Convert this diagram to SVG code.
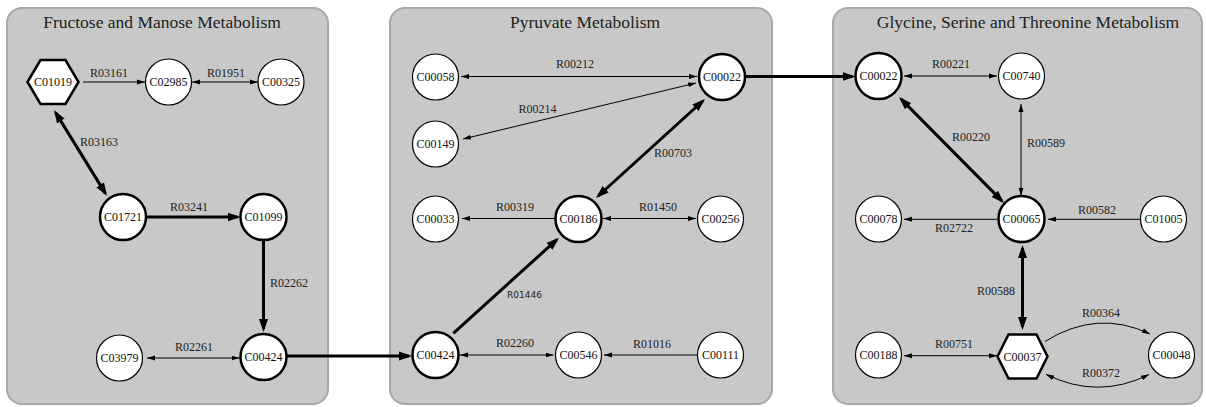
<svg xmlns="http://www.w3.org/2000/svg" width="1206" height="407" viewBox="0 0 1206 407">
<style>
.panel{fill:#c8c8c8;stroke:#a8a8a8;stroke-width:2}
.title{font-family:"Liberation Serif",serif;font-size:17.5px;fill:#222;text-anchor:middle}
.n{fill:#fff;stroke:#000;stroke-width:1.2}
.nt{fill:#fff;stroke:#000;stroke-width:2.5}
.lbl{font-family:"Liberation Serif",serif;font-size:12px;fill:#111;text-anchor:middle}
.el{font-family:"Liberation Serif",serif;font-size:12px;fill:#222}
.es{font-family:"DejaVu Sans",sans-serif;font-size:9px;fill:#222}
.thin{fill:none;stroke:#000;stroke-width:1}
.thick{fill:none;stroke:#000;stroke-width:3}
</style>
<defs>
<marker id="ah" viewBox="0 0 8 6" refX="8" refY="3" markerWidth="8" markerHeight="6" orient="auto-start-reverse" markerUnits="userSpaceOnUse"><path d="M0,0.5 L8,3 L0,5.5 z" fill="#000"/></marker>
<marker id="AH" viewBox="0 0 13 10" refX="10" refY="5" markerWidth="13" markerHeight="10" orient="auto-start-reverse" markerUnits="userSpaceOnUse"><path d="M0,0.5 L13,5 L0,9.5 z" fill="#000"/></marker>
</defs>

<g id="panels">
<rect class="panel" x="7" y="8" width="321" height="396" rx="15"/>
<rect class="panel" x="390" y="8" width="382" height="396" rx="15"/>
<rect class="panel" x="833" y="8" width="369" height="396" rx="15"/>
<text class="title" x="162" y="28">Fructose and Manose Metabolism</text>
<text class="title" x="585" y="28">Pyruvate Metabolism</text>
<text class="title" x="1028" y="28">Glycine, Serine and Threonine Metabolism</text>
</g>

<g id="connectors">
<!-- panel 1 -->
<line class="thin" x1="83" y1="82" x2="145" y2="82" marker-end="url(#ah)"/>
<line class="thin" x1="192" y1="82" x2="258" y2="82" marker-start="url(#ah)" marker-end="url(#ah)"/>
<line class="thick" x1="55.6" y1="112.6" x2="105.4" y2="193.4" marker-start="url(#AH)" marker-end="url(#AH)"/>
<line class="thick" x1="146" y1="217" x2="237.5" y2="217" marker-end="url(#AH)"/>
<line class="thick" x1="263.5" y1="240" x2="263.5" y2="329" marker-end="url(#AH)"/>
<line class="thin" x1="147" y1="358" x2="239.5" y2="358" marker-start="url(#ah)" marker-end="url(#ah)"/>
<line class="thick" x1="287" y1="356" x2="409" y2="356" marker-end="url(#AH)"/>
<!-- panel 2 -->
<line class="thin" x1="461" y1="76.5" x2="697" y2="76.5" marker-start="url(#ah)" marker-end="url(#ah)"/>
<line class="thin" x1="463" y1="139" x2="696" y2="83" marker-start="url(#ah)" marker-end="url(#ah)"/>
<line class="thick" x1="598.2" y1="196" x2="702.8" y2="101" marker-start="url(#AH)" marker-end="url(#AH)"/>
<line class="thin" x1="555" y1="218.5" x2="462" y2="218.5" marker-end="url(#ah)"/>
<line class="thin" x1="603" y1="218.5" x2="696" y2="218.5" marker-start="url(#ah)" marker-end="url(#ah)"/>
<line class="thick" x1="453.3" y1="333.3" x2="556.8" y2="239.7" marker-end="url(#AH)"/>
<line class="thin" x1="460" y1="355" x2="553.5" y2="355" marker-start="url(#ah)" marker-end="url(#ah)"/>
<line class="thin" x1="697" y1="355" x2="604" y2="355" marker-end="url(#ah)"/>
<line class="thick" x1="745" y1="76.5" x2="852.5" y2="76.5" marker-end="url(#AH)"/>
<!-- panel 3 -->
<line class="thin" x1="904" y1="76" x2="997" y2="76" marker-start="url(#ah)" marker-end="url(#ah)"/>
<line class="thick" x1="901.1" y1="99.1" x2="1001.9" y2="200.9" marker-start="url(#AH)" marker-end="url(#AH)"/>
<line class="thin" x1="1021" y1="104" x2="1021" y2="195.5" marker-start="url(#ah)" marker-end="url(#ah)"/>
<line class="thin" x1="997" y1="219.3" x2="904" y2="219.3" marker-end="url(#ah)"/>
<line class="thin" x1="1140" y1="219.3" x2="1048" y2="219.3" marker-end="url(#ah)"/>
<line class="thick" x1="1022.5" y1="248" x2="1022.5" y2="327" marker-start="url(#AH)" marker-end="url(#AH)"/>
<line class="thin" x1="904" y1="355.7" x2="997" y2="355.7" marker-start="url(#ah)" marker-end="url(#ah)"/>
<path class="thin" d="M1045,341.5 Q1097,308.8 1150,334" marker-end="url(#ah)"/>
<path class="thin" d="M1046,374.3 Q1098,400 1149,374.5" marker-start="url(#ah)" marker-end="url(#ah)"/>
</g>

<g id="edge-labels">
<text class="el" x="109" y="77" text-anchor="middle">R03161</text>
<text class="el" x="226" y="77" text-anchor="middle">R01951</text>
<text class="el" x="80" y="146">R03163</text>
<text class="el" x="189" y="211" text-anchor="middle">R03241</text>
<text class="el" x="270" y="287">R02262</text>
<text class="el" x="194" y="351" text-anchor="middle">R02261</text>
<text class="el" x="575" y="68" text-anchor="middle">R00212</text>
<text class="el" x="537.5" y="113" text-anchor="middle">R00214</text>
<text class="el" x="654" y="157">R00703</text>
<text class="el" x="515" y="211" text-anchor="middle">R00319</text>
<text class="el" x="658" y="211" text-anchor="middle">R01450</text>
<text class="es" x="507" y="298">R01446</text>
<text class="el" x="515" y="347" text-anchor="middle">R02260</text>
<text class="el" x="652" y="348" text-anchor="middle">R01016</text>
<text class="el" x="951" y="68" text-anchor="middle">R00221</text>
<text class="el" x="952" y="140.5">R00220</text>
<text class="el" x="1027" y="146.5">R00589</text>
<text class="el" x="954" y="232" text-anchor="middle">R02722</text>
<text class="el" x="1097" y="213.5" text-anchor="middle">R00582</text>
<text class="el" x="977" y="294.5">R00588</text>
<text class="el" x="954" y="348" text-anchor="middle">R00751</text>
<text class="el" x="1101" y="317" text-anchor="middle">R00364</text>
<text class="el" x="1101" y="377" text-anchor="middle">R00372</text>
</g>

<g id="C01019"><polygon class="nt" points="27.5,82 40.5,60 65.5,60 78.5,82 65.5,104 40.5,104"/><text class="lbl" x="53" y="86">C01019</text></g>
<g id="C02985"><circle class="n" cx="168.5" cy="82" r="23"/><text class="lbl" x="168.5" y="86">C02985</text></g>
<g id="C00325"><circle class="n" cx="281" cy="82" r="23"/><text class="lbl" x="281" y="86">C00325</text></g>
<g id="C01721"><circle class="nt" cx="123" cy="217" r="23"/><text class="lbl" x="123" y="221">C01721</text></g>
<g id="C01099"><circle class="nt" cx="263.5" cy="217" r="23"/><text class="lbl" x="263.5" y="221">C01099</text></g>
<g id="C03979"><circle class="n" cx="119.5" cy="358" r="23"/><text class="lbl" x="119.5" y="362">C03979</text></g>
<g id="C00424-a"><circle class="nt" cx="263.5" cy="357" r="23"/><text class="lbl" x="263.5" y="361">C00424</text></g>

<g id="C00058"><circle class="n" cx="435.5" cy="77" r="23"/><text class="lbl" x="435.5" y="81">C00058</text></g>
<g id="C00022-a"><circle class="nt" cx="722" cy="77" r="23"/><text class="lbl" x="722" y="81">C00022</text></g>
<g id="C00149"><circle class="n" cx="435.5" cy="144" r="23"/><text class="lbl" x="435.5" y="148">C00149</text></g>
<g id="C00033"><circle class="n" cx="435.5" cy="219" r="23"/><text class="lbl" x="435.5" y="223">C00033</text></g>
<g id="C00186"><circle class="nt" cx="578.5" cy="219" r="23"/><text class="lbl" x="578.5" y="223">C00186</text></g>
<g id="C00256"><circle class="n" cx="720.5" cy="219" r="23"/><text class="lbl" x="720.5" y="223">C00256</text></g>
<g id="C00424-b"><circle class="nt" cx="435.5" cy="355" r="23"/><text class="lbl" x="435.5" y="359">C00424</text></g>
<g id="C00546"><circle class="n" cx="578.5" cy="355" r="23"/><text class="lbl" x="578.5" y="359">C00546</text></g>
<g id="C00111"><circle class="n" cx="720.5" cy="355" r="23"/><text class="lbl" x="720.5" y="359">C00111</text></g>

<g id="C00022-b"><circle class="nt" cx="878.5" cy="76" r="23"/><text class="lbl" x="878.5" y="80">C00022</text></g>
<g id="C00740"><circle class="n" cx="1021.5" cy="76" r="23"/><text class="lbl" x="1021.5" y="80">C00740</text></g>
<g id="C00078"><circle class="n" cx="878.5" cy="219" r="23"/><text class="lbl" x="878.5" y="223">C00078</text></g>
<g id="C00065"><circle class="nt" cx="1021.5" cy="219" r="23"/><text class="lbl" x="1021.5" y="223">C00065</text></g>
<g id="C01005"><circle class="n" cx="1163.5" cy="219" r="23"/><text class="lbl" x="1163.5" y="223">C01005</text></g>
<g id="C00188"><circle class="n" cx="878.5" cy="355" r="23"/><text class="lbl" x="878.5" y="359">C00188</text></g>
<g id="C00037"><polygon class="nt" points="997.5,356.5 1008.5,334.5 1036.5,334.5 1047.5,356.5 1036.5,378.5 1008.5,378.5"/><text class="lbl" x="1022.5" y="360.5">C00037</text></g>
<g id="C00048"><circle class="n" cx="1171.5" cy="355" r="23"/><text class="lbl" x="1171.5" y="359">C00048</text></g>
</svg>
